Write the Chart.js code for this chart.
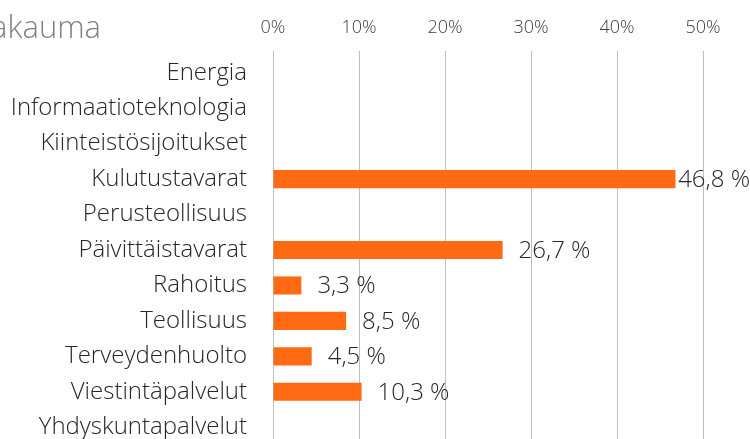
<!DOCTYPE html>
<html>
<head>
<meta charset="utf-8">
<script src="https://cdn.jsdelivr.net/npm/chart.js@4/dist/chart.umd.min.js"></script>
<style>
  html, body { margin: 0; padding: 0; background: #fff; overflow: hidden; }
  #wrap { position: relative; width: 750px; height: 445px; }
</style>
</head>
<body>
<div id="wrap"><canvas id="c"></canvas></div>
<script>
const title = "Toimialajakauma";
const categories = [
  "Energia", "Informaatioteknologia", "Kiinteistösijoitukset", "Kulutustavarat",
  "Perusteollisuus", "Päivittäistavarat", "Rahoitus", "Teollisuus",
  "Terveydenhuolto", "Viestintäpalvelut", "Yhdyskuntapalvelut"
];
const shares = [null, null, null, 46.8, null, 26.7, 3.3, 8.5, 4.5, 10.3, null];
const xTicks = [0, 10, 20, 30, 40, 50];

const FONT = "'Open Sans', sans-serif";

// percentage labels after each bar, kept inside the canvas
const barLabels = {
  id: 'barLabels',
  afterDatasetsDraw(chart) {
    const ctx = chart.ctx;
    const meta = chart.getDatasetMeta(0);
    ctx.save();
    ctx.font = "300 24px " + FONT;
    ctx.fillStyle = "#262626";
    ctx.textBaseline = "middle";
    meta.data.forEach((bar, i) => {
      const v = shares[i];
      if (v == null) return;
      const txt = v.toFixed(1).replace('.', ',') + " %";
      const w = ctx.measureText(txt).width;
      let x = bar.x + 16;
      if (x + w > chart.width) x = chart.width - w;
      ctx.fillText(txt, x, bar.y + 1);
    });
    ctx.restore();
  }
};

// heading in the top left corner
const heading = {
  id: 'heading',
  afterDraw(chart) {
    const ctx = chart.ctx;
    ctx.save();
    ctx.font = "300 31px " + FONT;
    ctx.fillStyle = "#808080";
    ctx.textAlign = "right";
    ctx.textBaseline = "alphabetic";
    ctx.fillText(title, 101, 38);
    ctx.restore();
  }
};

new Chart(document.getElementById('c'), {
  type: 'bar',
  data: {
    labels: categories,
    datasets: [{
      data: shares,
      backgroundColor: "#ff6a13",
      categoryPercentage: 1,
      barPercentage: 0.51
    }]
  },
  options: {
    indexAxis: 'y',
    responsive: true,
    maintainAspectRatio: false,
    animation: false,
    devicePixelRatio: 1,
    layout: { padding: { left: 0, right: 47, top: 0, bottom: 0 } },
    plugins: { legend: { display: false }, tooltip: { enabled: false } },
    scales: {
      x: {
        position: 'top',
        min: 0,
        max: 50,
        afterBuildTicks(axis) { axis.ticks = xTicks.map(v => ({ value: v })); },
        afterFit(axis) { axis.height = 55; },
        grid: { color: "#bfbfbf", lineWidth: 1, tickLength: 4, drawTicks: true },
        border: { display: false },
        ticks: {
          color: "#404040",
          font: { family: FONT, size: 18, weight: 300 },
          padding: 12,
          callback: v => v + "%"
        }
      },
      y: {
        afterFit(axis) {
          axis.width = 273;
          axis.paddingTop = 0;
          axis.paddingBottom = 0;
        },
        grid: { display: false },
        border: { display: false },
        ticks: {
          color: "#262626",
          font: { family: FONT, size: 24, weight: 300 },
          padding: 18
        }
      }
    }
  },
  plugins: [barLabels, heading]
});
</script>
</body>
</html>
